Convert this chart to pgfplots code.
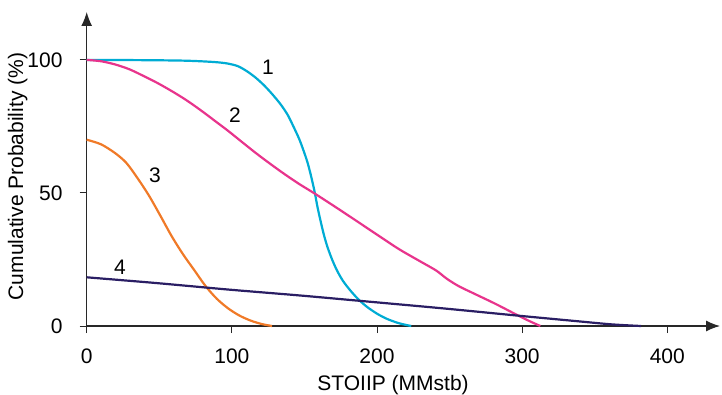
\documentclass[border=0pt]{standalone}
\usepackage{pgfplots}
\pgfplotsset{compat=1.18}
\usetikzlibrary{arrows.meta}
\usepackage{fontspec}
\setmainfont{Liberation Sans}
\definecolor{cOne}{RGB}{0,172,212}
\definecolor{cTwo}{RGB}{232,52,140}
\definecolor{cThree}{RGB}{240,122,40}
\definecolor{cFour}{RGB}{42,30,100}
\definecolor{axc}{RGB}{40,40,40}
\begin{document}
\begin{tikzpicture}[font=\fontsize{21}{25}\selectfont]
\begin{axis}[
  scale only axis,
  width=633.3pt, height=314pt,
  xmin=0, xmax=436.3, ymin=0, ymax=118,
  axis lines=left,
  axis line style={axc, line width=1.2pt, -{Latex[length=14pt,width=11pt]}},
  xtick={0,100,200,300,400},
  ytick={0,50,100},
  tick style={axc, line width=1pt},
  tick align=outside,
  major tick length=7pt,
  /pgf/number format/assume math mode=true,
  xticklabel style={anchor=north, inner sep=0pt, yshift=-16pt},
  yticklabel style={anchor=east, inner sep=0pt, xshift=-17pt},
  xlabel={STOIIP (MMstb)},
  ylabel={Cumulative Probability (\%)},
  xlabel style={at={(axis description cs:0.4837,0)}, anchor=north, inner sep=0pt, yshift=-49pt},
  ylabel style={at={(axis description cs:-0.0932,0.476)}, anchor=south, inner sep=0pt},
  clip=false,
]
\addplot[cOne, line width=2.2pt, smooth] coordinates {
(0,100)(39,99.9)(68.3,99.7)(87.8,99.2)(97.5,98.6)(104.3,97.6)(110.2,95.8)(116,93.5)(121.9,90.6)(127.7,87.2)(133.6,83.3)(138.5,79.3)(142.4,75)(146.3,70.4)(149.2,66.2)(152.1,61.5)(154.5,56.5)(157,50.5)(158.9,45)(160.9,40)(163.3,34.5)(165.8,29.8)(169.2,24.8)(172.6,20.7)(176.5,17)(181.4,13.5)(187.2,10)(193.1,7.2)(200.1,4.6)(207.2,2.6)(215.4,1)(223.6,0)
};
\addplot[cTwo, line width=2.2pt, smooth] coordinates {
(0,100)(9.8,99.5)(19.5,98.3)(29.3,96.5)(39,94)(48.8,91.3)(58.5,88.3)(68.3,85)(78,81.3)(87.8,77.3)(97.5,73.3)(107.3,69)(117,64.8)(126.8,60.8)(136.5,57)(146.3,53.4)(157,49.8)(170.6,45)(185.3,39.7)(200.1,34.3)(215.4,28.8)(230.7,24)(240.9,20.8)(248,17.8)(256.2,15)(266.4,12.3)(281.7,8.3)(297,4)(305.2,1.8)(312.5,0)
};
\addplot[cThree, line width=2.2pt, smooth] coordinates {
(0,70)(9.8,68.3)(19.5,65)(27.3,61.3)(35.1,55.5)(42.9,49)(50.7,41.5)(58.5,33.8)(66.3,27)(74.1,21)(81.9,15)(89.7,10.2)(97.5,6.6)(105.3,3.9)(113.1,2)(120.9,0.7)(127.7,0)
};
\addplot[cFour, line width=2.2pt, smooth] coordinates {
(0,18.3)(48.8,16.1)(97.5,13.7)(146.3,11.5)(185.3,9.6)(246,6.6)(297,3.9)(338,1.8)(362,0.6)(382,0)
};
\node at (axis cs:124.9,97.4) {1};
\node at (axis cs:102.2,79.3) {2};
\node at (axis cs:47,56.8) {3};
\node at (axis cs:23,22.2) {4};
\end{axis}
\pgfresetboundingbox
\useasboundingbox (-86.7pt,-68pt) rectangle (635.3pt,326pt);
\end{tikzpicture}
\end{document}
